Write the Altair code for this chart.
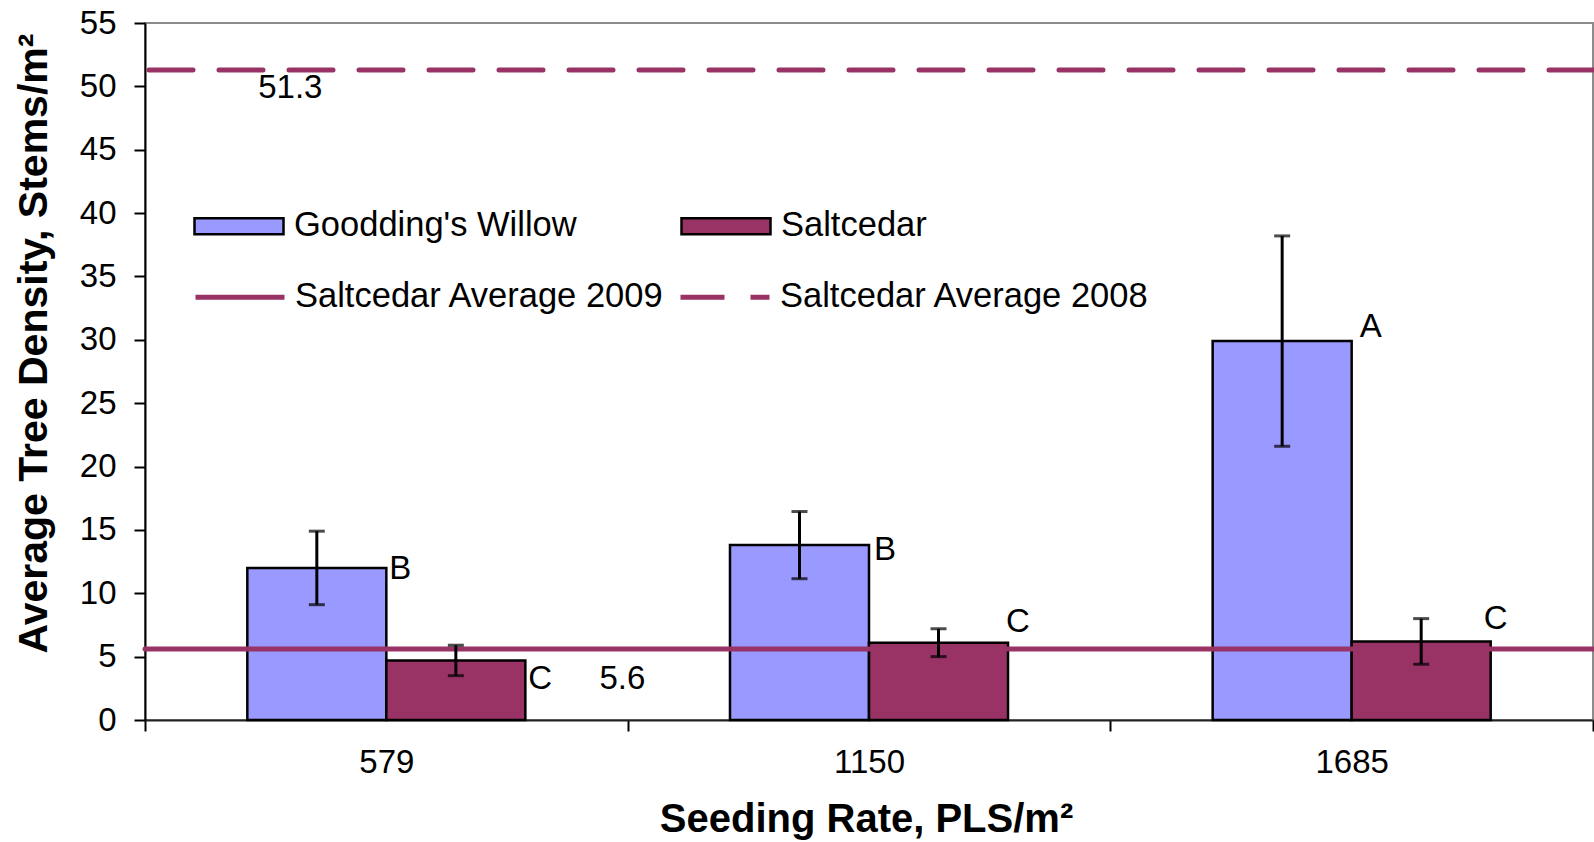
import altair as alt
import pandas as pd

# ---- data -------------------------------------------------------------
categories = ["579", "1150", "1685"]
series = ["Goodding's Willow", "Saltcedar"]
willow_mean = [12.0, 13.8, 29.9]
willow_err = [2.9, 2.65, 8.3]
salt_mean = [4.7, 6.1, 6.2]
salt_err = [1.2, 1.1, 1.8]
willow_letters = ["B", "B", "A"]
salt_letters = ["C", "C", "C"]
ref_names = ["Saltcedar Average 2009", "Saltcedar Average 2008"]
ref_values = [5.6, 51.3]
y_ticks = list(range(0, 60, 5))

# ---- styling ------------------------------------------------------------
FONT = "Liberation Sans"
BLUE = "#9999FF"
PURPLE = "#993366"
W, H = 1448, 697
HALF_BAR = 69.5
# letter nudges (dx from bar edge, dy from bar top), willow then saltcedar
willow_nudge = [(3, 1), (5, 5), (8, -14)]
salt_nudge = [(3, 19), (-2, -21), (-7, -22)]

rows = []
for i, c in enumerate(categories):
    rows.append({"cat": c, "series": series[0], "mean": willow_mean[i],
                 "lo": willow_mean[i] - willow_err[i], "hi": willow_mean[i] + willow_err[i],
                 "letter": willow_letters[i]})
    rows.append({"cat": c, "series": series[1], "mean": salt_mean[i],
                 "lo": salt_mean[i] - salt_err[i], "hi": salt_mean[i] + salt_err[i],
                 "letter": salt_letters[i]})
df = pd.DataFrame(rows)
ref_df = pd.DataFrame({"name": ref_names, "value": ref_values})

x_scale = alt.Scale(domain=categories, paddingInner=0, paddingOuter=0)
xo_scale = alt.Scale(domain=series, paddingInner=0, paddingOuter=0.736)
y_scale = alt.Scale(domain=[0, 55], nice=False, zero=True)

X = alt.X("cat:N", scale=x_scale, sort=categories,
          axis=alt.Axis(title="Seeding Rate, PLS/m²", tickBand="extent", labelAngle=0,
                        labelFontSize=33, labelPadding=15, tickSize=11,
                        titleFontSize=40, titleFontWeight="bold",
                        titleX=721, titleY=111, titleBaseline="alphabetic",
                        titleAnchor="start", titleAlign="center",
                        domainColor="#222222"))
XO = alt.XOffset("series:N", scale=xo_scale, sort=series)
Y = alt.Y("mean:Q", scale=y_scale,
          axis=alt.Axis(title="Average Tree Density, Stems/m²", values=y_ticks,
                        labelFontSize=33, labelPadding=18, tickSize=11,
                        titleFontSize=41, titleFontWeight="bold",
                        titleX=-99, titleY=320, titleAngle=270,
                        titleBaseline="alphabetic", titleAlign="center"))

base = alt.Chart(df)

bars = base.mark_bar(stroke="black", strokeWidth=2.5).encode(
    x=X, xOffset=XO, y=Y,
    fill=alt.Fill("series:N", scale=alt.Scale(domain=series, range=[BLUE, PURPLE]),
                  legend=alt.Legend(title=None, orient="none", legendX=48, legendY=157,
                                    direction="horizontal", columns=2, padding=0,
                                    symbolType="M-1,-0.18H1V0.18H-1Z", symbolSize=7921,
                                    symbolStrokeColor="black", symbolStrokeWidth=2.5,
                                    symbolOpacity=1, labelFontSize=34.5, labelFont=FONT,
                                    labelColor="black", labelOffset=9,
                                    columnPadding=99, labelLimit=600)),
)

refs = alt.Chart(ref_df).mark_rule(color=PURPLE, strokeWidth=5, strokeCap="round").encode(
    y=alt.Y("value:Q", scale=y_scale),
    strokeDash=alt.StrokeDash("name:N",
                              scale=alt.Scale(domain=ref_names, range=[[1, 0], [44, 26]]),
                              legend=alt.Legend(title=None, orient="none", legendX=48, legendY=227,
                                                direction="horizontal", columns=2, padding=0,
                                                symbolType="M-1,0H1", symbolSize=7921,
                                                symbolStrokeColor=PURPLE, symbolStrokeWidth=5,
                                                labelFontSize=34.5, labelFont=FONT,
                                                labelColor="black", labelOffset=8,
                                                columnPadding=5, labelLimit=600)),
)

ref_labels = []
for name, val, (ddx, ddy) in zip(ref_names, ref_values, [(236, 30), (-96, 18)]):
    ref_labels.append(
        alt.Chart(ref_df[ref_df["name"] == name]).mark_text(
            font=FONT, fontSize=33, color="black", align="center", baseline="middle",
            dx=ddx, dy=ddy).encode(
            x=alt.datum(categories[0]), y=alt.Y("value:Q", scale=y_scale), text=alt.Text("value:Q", format=".1f"))
    )

err_rule = base.mark_rule(color="black", strokeWidth=3).encode(
    x=X, xOffset=XO, y=alt.Y("lo:Q", scale=y_scale), y2="hi:Q")
cap_lo = base.mark_tick(color="black", thickness=3, size=16, orient="horizontal").encode(
    x=X, xOffset=XO, y=alt.Y("lo:Q", scale=y_scale))
cap_hi = base.mark_tick(color="black", thickness=3, size=16, orient="horizontal").encode(
    x=X, xOffset=XO, y=alt.Y("hi:Q", scale=y_scale))

letters = []
for i, c in enumerate(categories):
    for s, nudges in ((series[0], willow_nudge), (series[1], salt_nudge)):
        ddx, ddy = nudges[i]
        sub = df[(df["cat"] == c) & (df["series"] == s)]
        letters.append(
            alt.Chart(sub).mark_text(font=FONT, fontSize=33, color="black", align="left",
                                     baseline="middle", dx=HALF_BAR + ddx, dy=ddy).encode(
                x=X, xOffset=XO, y=alt.Y("mean:Q", scale=y_scale), text="letter:N")
        )

chart = alt.layer(bars, refs, err_rule, cap_lo, cap_hi, *ref_labels, *letters).properties(
    width=W, height=H,
    autosize=alt.AutoSizeParams(type="none"),
    padding={"left": 145, "top": 23, "right": 1, "bottom": 122},
    background="white",
).configure_view(
    stroke="#8c8c8c", strokeWidth=2
).configure_axis(
    labelFont=FONT, titleFont=FONT, labelColor="black", titleColor="black",
    domainColor="black", tickColor="black", domainWidth=2, tickWidth=2, grid=False,
)

chart.save("out.html", embed_options={"renderer": "svg", "actions": False})
